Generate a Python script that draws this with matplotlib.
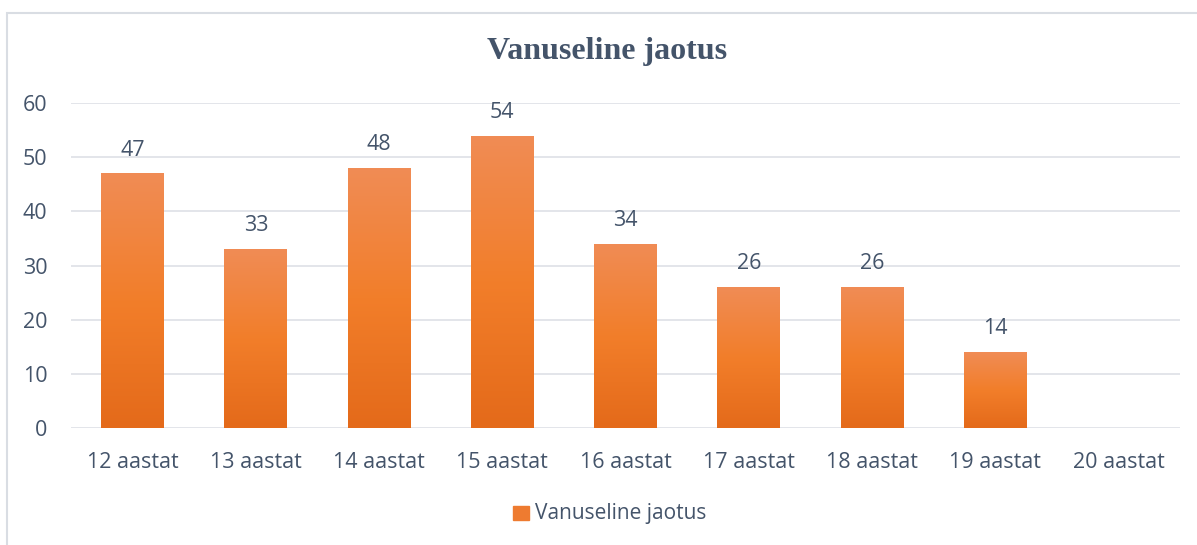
import numpy as np
import matplotlib
matplotlib.use("Agg")
import matplotlib.pyplot as plt
from matplotlib.colors import LinearSegmentedColormap
from matplotlib.patches import Rectangle

# Andmed
categories = ["12 aastat", "13 aastat", "14 aastat", "15 aastat", "16 aastat",
              "17 aastat", "18 aastat", "19 aastat", "20 aastat"]
values = [47, 33, 48, 54, 34, 26, 26, 14, 0]
series_name = "Vanuseline jaotus"
title = "Vanuseline jaotus"

TEXT = "#44546A"
GRID = "#E0E3E8"
cmap = LinearSegmentedColormap.from_list("oranz", ["#E46A1A", "#F27E2A", "#F08C55"])

plt.rcParams["font.family"] = ["Open Sans", "DejaVu Sans"]

fig = plt.figure(figsize=(11.97, 5.45), dpi=100)
W, H = 1197, 545
ax = fig.add_axes([71 / W, 1 - 428 / H, (1180 - 71) / W, (428 - 103) / H])

x = np.arange(len(categories))
bars = ax.bar(x, values, width=0.51, color="#EE7B30", zorder=2)

# gradient täidis igale tulbale
grad = np.linspace(0, 1, 256).reshape(-1, 1)
for b in bars:
    if b.get_height() <= 0:
        continue
    x0, w, h = b.get_x(), b.get_width(), b.get_height()
    im = ax.imshow(grad, cmap=cmap, aspect="auto", origin="lower",
                   extent=[x0, x0 + w, 0, h], zorder=3)
    im.set_clip_path(b)

for xi, v in zip(x, values):
    if v > 0:
        ax.text(xi, v + 3.3, str(v), ha="center", va="baseline",
                fontsize=15.5, color=TEXT)

ax.set_xlim(-0.5, len(categories) - 0.5)
ax.set_ylim(0, 60)
ax.set_yticks(range(0, 61, 10))
ax.set_xticks(x)
ax.set_xticklabels(categories)
ax.tick_params(axis="both", length=0, labelsize=15.5, labelcolor=TEXT)
ax.tick_params(axis="x", pad=17)
ax.tick_params(axis="y", pad=17)
ax.grid(True, axis="y", color=GRID, linewidth=1.3, zorder=0)
for s in ax.spines.values():
    s.set_visible(False)
ax.set_axisbelow(True)

fig.text(607 / W, 1 - 52 / H, title, ha="center", va="center",
         fontsize=23, fontweight="bold", color=TEXT, family="Liberation Serif")

# legend
fig.patches.append(Rectangle((513 / W, 1 - 520 / H), 16 / W, 14 / H,
                             transform=fig.transFigure, color="#EE7B30"))
fig.text(535 / W, 1 - 513 / H, series_name, ha="left", va="center",
         fontsize=15, color=TEXT)

# raam
fig.patches.append(Rectangle((7 / W, -0.1), 1.2, 1 - 13 / H + 0.1,
                             transform=fig.transFigure, fill=False,
                             edgecolor="#D9DDE3", linewidth=1.5))

fig.savefig("out.png", dpi=100)
